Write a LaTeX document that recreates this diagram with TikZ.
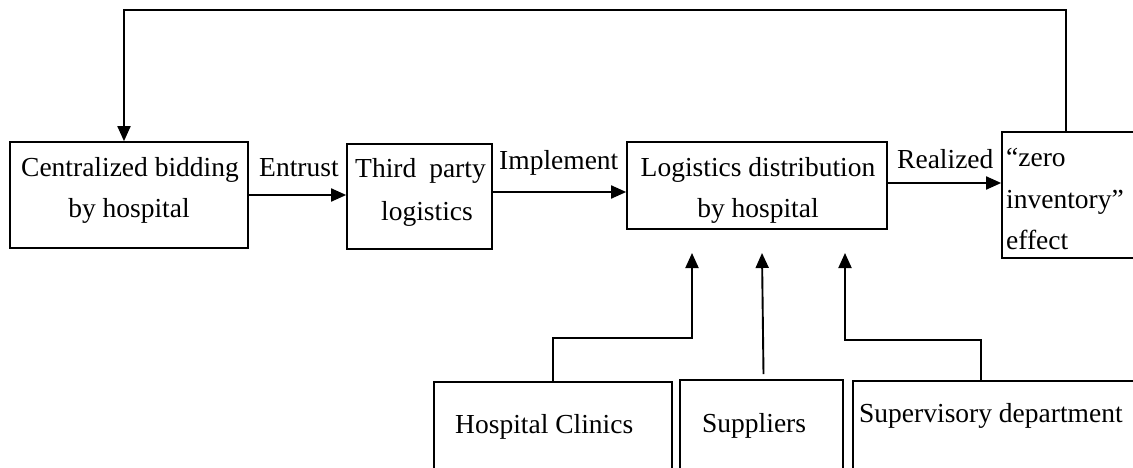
\documentclass[tikz,border=0pt]{standalone}
\usepackage{fontspec}
\setmainfont{Liberation Serif}
\usetikzlibrary{arrows.meta}
\begin{document}
\begin{tikzpicture}[x=1pt,y=-1pt,
  box/.style={draw,line width=1.7pt,inner sep=0pt,rectangle},
  arr/.style={line width=1.9pt,-{Triangle[length=15pt,width=13pt]}},
  txt/.style={inner sep=0pt,font=\fontsize{27.5}{41}\selectfont}]
\clip (0,0) rectangle (1133,468);
\fill[white] (0,0) rectangle (1133,468);

% boxes of the main chain
\node[box,minimum width=238pt,minimum height=106pt] (bid) at (129,195) {};
\node[box,minimum width=145pt,minimum height=105pt] (tpl) at (419.5,196.5) {};
\node[box,minimum width=260pt,minimum height=87pt] (ldb) at (757,185.5) {};
\node[box,minimum width=143pt,minimum height=126pt] (zero) at (1073.5,195) {};

% boxes of the contributing parties
\node[box,minimum width=238pt,minimum height=98pt] (clin) at (553,431) {};
\node[box,minimum width=163pt,minimum height=100pt] (supp) at (761.5,430) {};
\node[box,minimum width=292pt,minimum height=99pt] (supv) at (999,430.5) {};

% box texts
\node[txt,anchor=base] (bidA) at (130,177) {Centralized bidding};
\node[txt,anchor=base] (bidB) at (129,218) {by hospital};
\node[txt,anchor=base west] (tplA) at (355,178) {Third\hspace{13pt}party};
\node[txt,anchor=base] (tplB) at (427,220) {logistics};
\node[txt,anchor=base] (ldbA) at (758,177) {Logistics distribution};
\node[txt,anchor=base] (ldbB) at (758,218) {by hospital};
\node[txt,anchor=base west] (zeroA) at (1006,167) {“zero};
\node[txt,anchor=base west] (zeroB) at (1006,208) {inventory”};
\node[txt,anchor=base west] (zeroC) at (1006,249) {effect};
\node[txt,anchor=base west] (clinT) at (455,433) {Hospital Clinics};
\node[txt,anchor=base west] (suppT) at (702,432) {Suppliers};
\node[txt,anchor=base west] (supvT) at (859,422) {Supervisory department};

% connector labels
\node[txt,anchor=base west] (lEnt) at (259,177) {Entrust};
\node[txt,anchor=base west] (lImp) at (499,170) {Implement};
\node[txt,anchor=base west] (lRea) at (897,168) {Realized};

% main chain connectors
\draw[arr] (bid.east) -- (bid.east -| tpl.west);
\draw[arr] ([yshift=4.5pt]tpl.east) coordinate (i0) -- (i0 -| ldb.west);
\draw[arr] ([yshift=2.5pt]ldb.east) coordinate (r0) -- (r0 -| zero.west);

% feedback loop over the top
\coordinate (topY) at (0,10);
\draw[arr] ([xshift=-7.5pt]zero.north) coordinate (f0) -- (f0 |- topY) -| ([xshift=-5pt]bid.north);

% inputs from below
\coordinate (clinK) at (692,338);
\coordinate (clinE) at (692,253);
\draw[arr] (clin.north) |- (clinK) -- (clinE);
\coordinate (suppE) at (762,253);
\draw[arr] ([xshift=2pt,yshift=5pt]supp.north) -- (suppE);
\coordinate (supvK) at (845,340);
\coordinate (supvE) at (845,253);
\draw[arr] ([xshift=-18pt]supv.north) |- (supvK) -- (supvE);
\end{tikzpicture}
\end{document}
